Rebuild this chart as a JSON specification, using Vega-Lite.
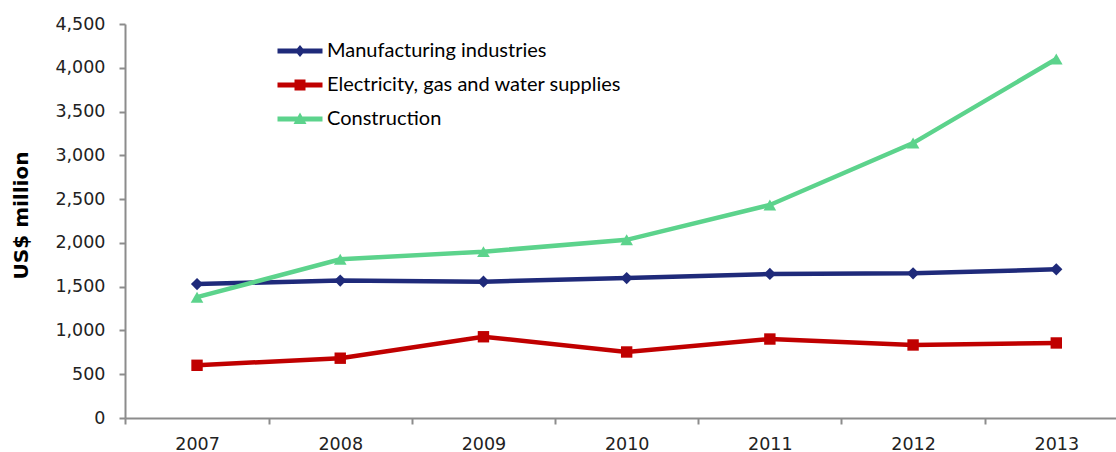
{
  "$schema": "https://vega.github.io/schema/vega-lite/v6.json",
  "width": 991,
  "height": 394,
  "autosize": {"type": "none"},
  "padding": {"left": 125, "top": 24, "right": 0, "bottom": 34},
  "background": "white",
  "config": {
    "view": {"stroke": null},
    "axis": {"grid": false, "domainColor": "#8c8c8c", "domainWidth": 2, "tickColor": "#8c8c8c", "tickWidth": 2, "tickSize": 6, "labelFont": "DejaVu Sans", "labelFontSize": 17.5, "labelColor": "#222222"},
    "legend": {"padding": 0}
  },
  "data": {
    "values": [
      {"year": 2007, "series": "Manufacturing industries", "value": 1530},
      {"year": 2008, "series": "Manufacturing industries", "value": 1570},
      {"year": 2009, "series": "Manufacturing industries", "value": 1557},
      {"year": 2010, "series": "Manufacturing industries", "value": 1598},
      {"year": 2011, "series": "Manufacturing industries", "value": 1645},
      {"year": 2012, "series": "Manufacturing industries", "value": 1652},
      {"year": 2013, "series": "Manufacturing industries", "value": 1698},
      {"year": 2007, "series": "Electricity, gas and water supplies", "value": 602},
      {"year": 2008, "series": "Electricity, gas and water supplies", "value": 683},
      {"year": 2009, "series": "Electricity, gas and water supplies", "value": 928},
      {"year": 2010, "series": "Electricity, gas and water supplies", "value": 754},
      {"year": 2011, "series": "Electricity, gas and water supplies", "value": 902},
      {"year": 2012, "series": "Electricity, gas and water supplies", "value": 834},
      {"year": 2013, "series": "Electricity, gas and water supplies", "value": 857},
      {"year": 2007, "series": "Construction", "value": 1380},
      {"year": 2008, "series": "Construction", "value": 1813},
      {"year": 2009, "series": "Construction", "value": 1900},
      {"year": 2010, "series": "Construction", "value": 2035},
      {"year": 2011, "series": "Construction", "value": 2433},
      {"year": 2012, "series": "Construction", "value": 3140},
      {"year": 2013, "series": "Construction", "value": 4100}
    ]
  },
  "encoding": {
    "x": {"field": "year", "type": "quantitative",
      "scale": {"domain": [2006.497, 2013.417], "nice": false, "zero": false},
      "axis": {"title": null, "values": [2007, 2008, 2009, 2010, 2011, 2012, 2013], "format": "d", "tickOffset": -71.6, "labelOffset": 71.6, "labelPadding": 11, "labelFlush": false, "labelOverlap": false}},
    "y": {"field": "value", "type": "quantitative",
      "scale": {"domain": [0, 4500], "nice": false},
      "axis": {"title": "US$ million", "values": [0, 500, 1000, 1500, 2000, 2500, 3000, 3500, 4000, 4500], "format": ",d", "labelPadding": 14, "titleFont": "DejaVu Sans", "titleFontSize": 20, "titleFontWeight": "bold", "titleColor": "#000000", "titleX": -104, "titleY": 191, "titleAngle": -90, "titleBaseline": "middle", "titleAlign": "center"}}
  },
  "layer": [
    {
      "transform": [{"filter": "datum.series === 'Manufacturing industries'"}],
      "mark": {"type": "line", "strokeWidth": 4.5, "color": "#1f2a7a"}
    },
    {
      "transform": [{"filter": "datum.series === 'Electricity, gas and water supplies'"}],
      "mark": {"type": "line", "strokeWidth": 4.5, "color": "#c00000"}
    },
    {
      "transform": [{"filter": "datum.series === 'Construction'"}],
      "mark": {"type": "line", "strokeWidth": 4.5, "color": "#5cd38c"}
    },
    {
      "transform": [{"filter": "datum.series === 'Manufacturing industries'"}],
      "mark": {"type": "point", "shape": "diamond", "filled": true, "opacity": 1, "size": 150, "color": "#1f2a7a"}
    },
    {
      "transform": [{"filter": "datum.series === 'Electricity, gas and water supplies'"}],
      "mark": {"type": "point", "shape": "square", "filled": true, "opacity": 1, "size": 130, "color": "#c00000"}
    },
    {
      "transform": [{"filter": "datum.series === 'Construction'"}],
      "mark": {"type": "point", "shape": "triangle-up", "filled": true, "opacity": 1, "size": 160, "color": "#5cd38c"}
    },
    {
      "mark": {"type": "point", "filled": true, "opacity": 0, "size": 100},
      "encoding": {
        "color": {"field": "series", "type": "nominal",
          "scale": {"domain": ["Manufacturing industries", "Electricity, gas and water supplies", "Construction"], "range": ["#1f2a7a", "#c00000", "#5cd38c"]},
          "legend": {"orient": "none", "legendX": 165, "legendY": 17, "title": null, "symbolOpacity": 1, "symbolStrokeWidth": 0, "symbolSize": 100, "labelFont": "Lato", "labelFontSize": 20, "labelColor": "#000000", "labelOffset": 17, "rowPadding": 14, "labelLimit": 600}},
        "shape": {"field": "series", "type": "nominal",
          "scale": {"domain": ["Manufacturing industries", "Electricity, gas and water supplies", "Construction"],
            "range": ["M-4.5,-0.5H4.5V0.5H-4.5Z M0,-1.2L1,0L0,1.2L-1,0Z", "M-4.5,-0.5H4.5V0.5H-4.5Z M-1.1,-1.1H1.1V1.1H-1.1Z", "M-4.5,-0.5H4.5V0.5H-4.5Z M0,-1.3L1.3,1L-1.3,1Z"]},
          "legend": {"orient": "none", "legendX": 165, "legendY": 17, "title": null, "symbolOpacity": 1, "symbolStrokeWidth": 0, "symbolSize": 100, "labelFont": "Lato", "labelFontSize": 20, "labelColor": "#000000", "labelOffset": 17, "rowPadding": 14, "labelLimit": 600}}
      }
    }
  ]
}
